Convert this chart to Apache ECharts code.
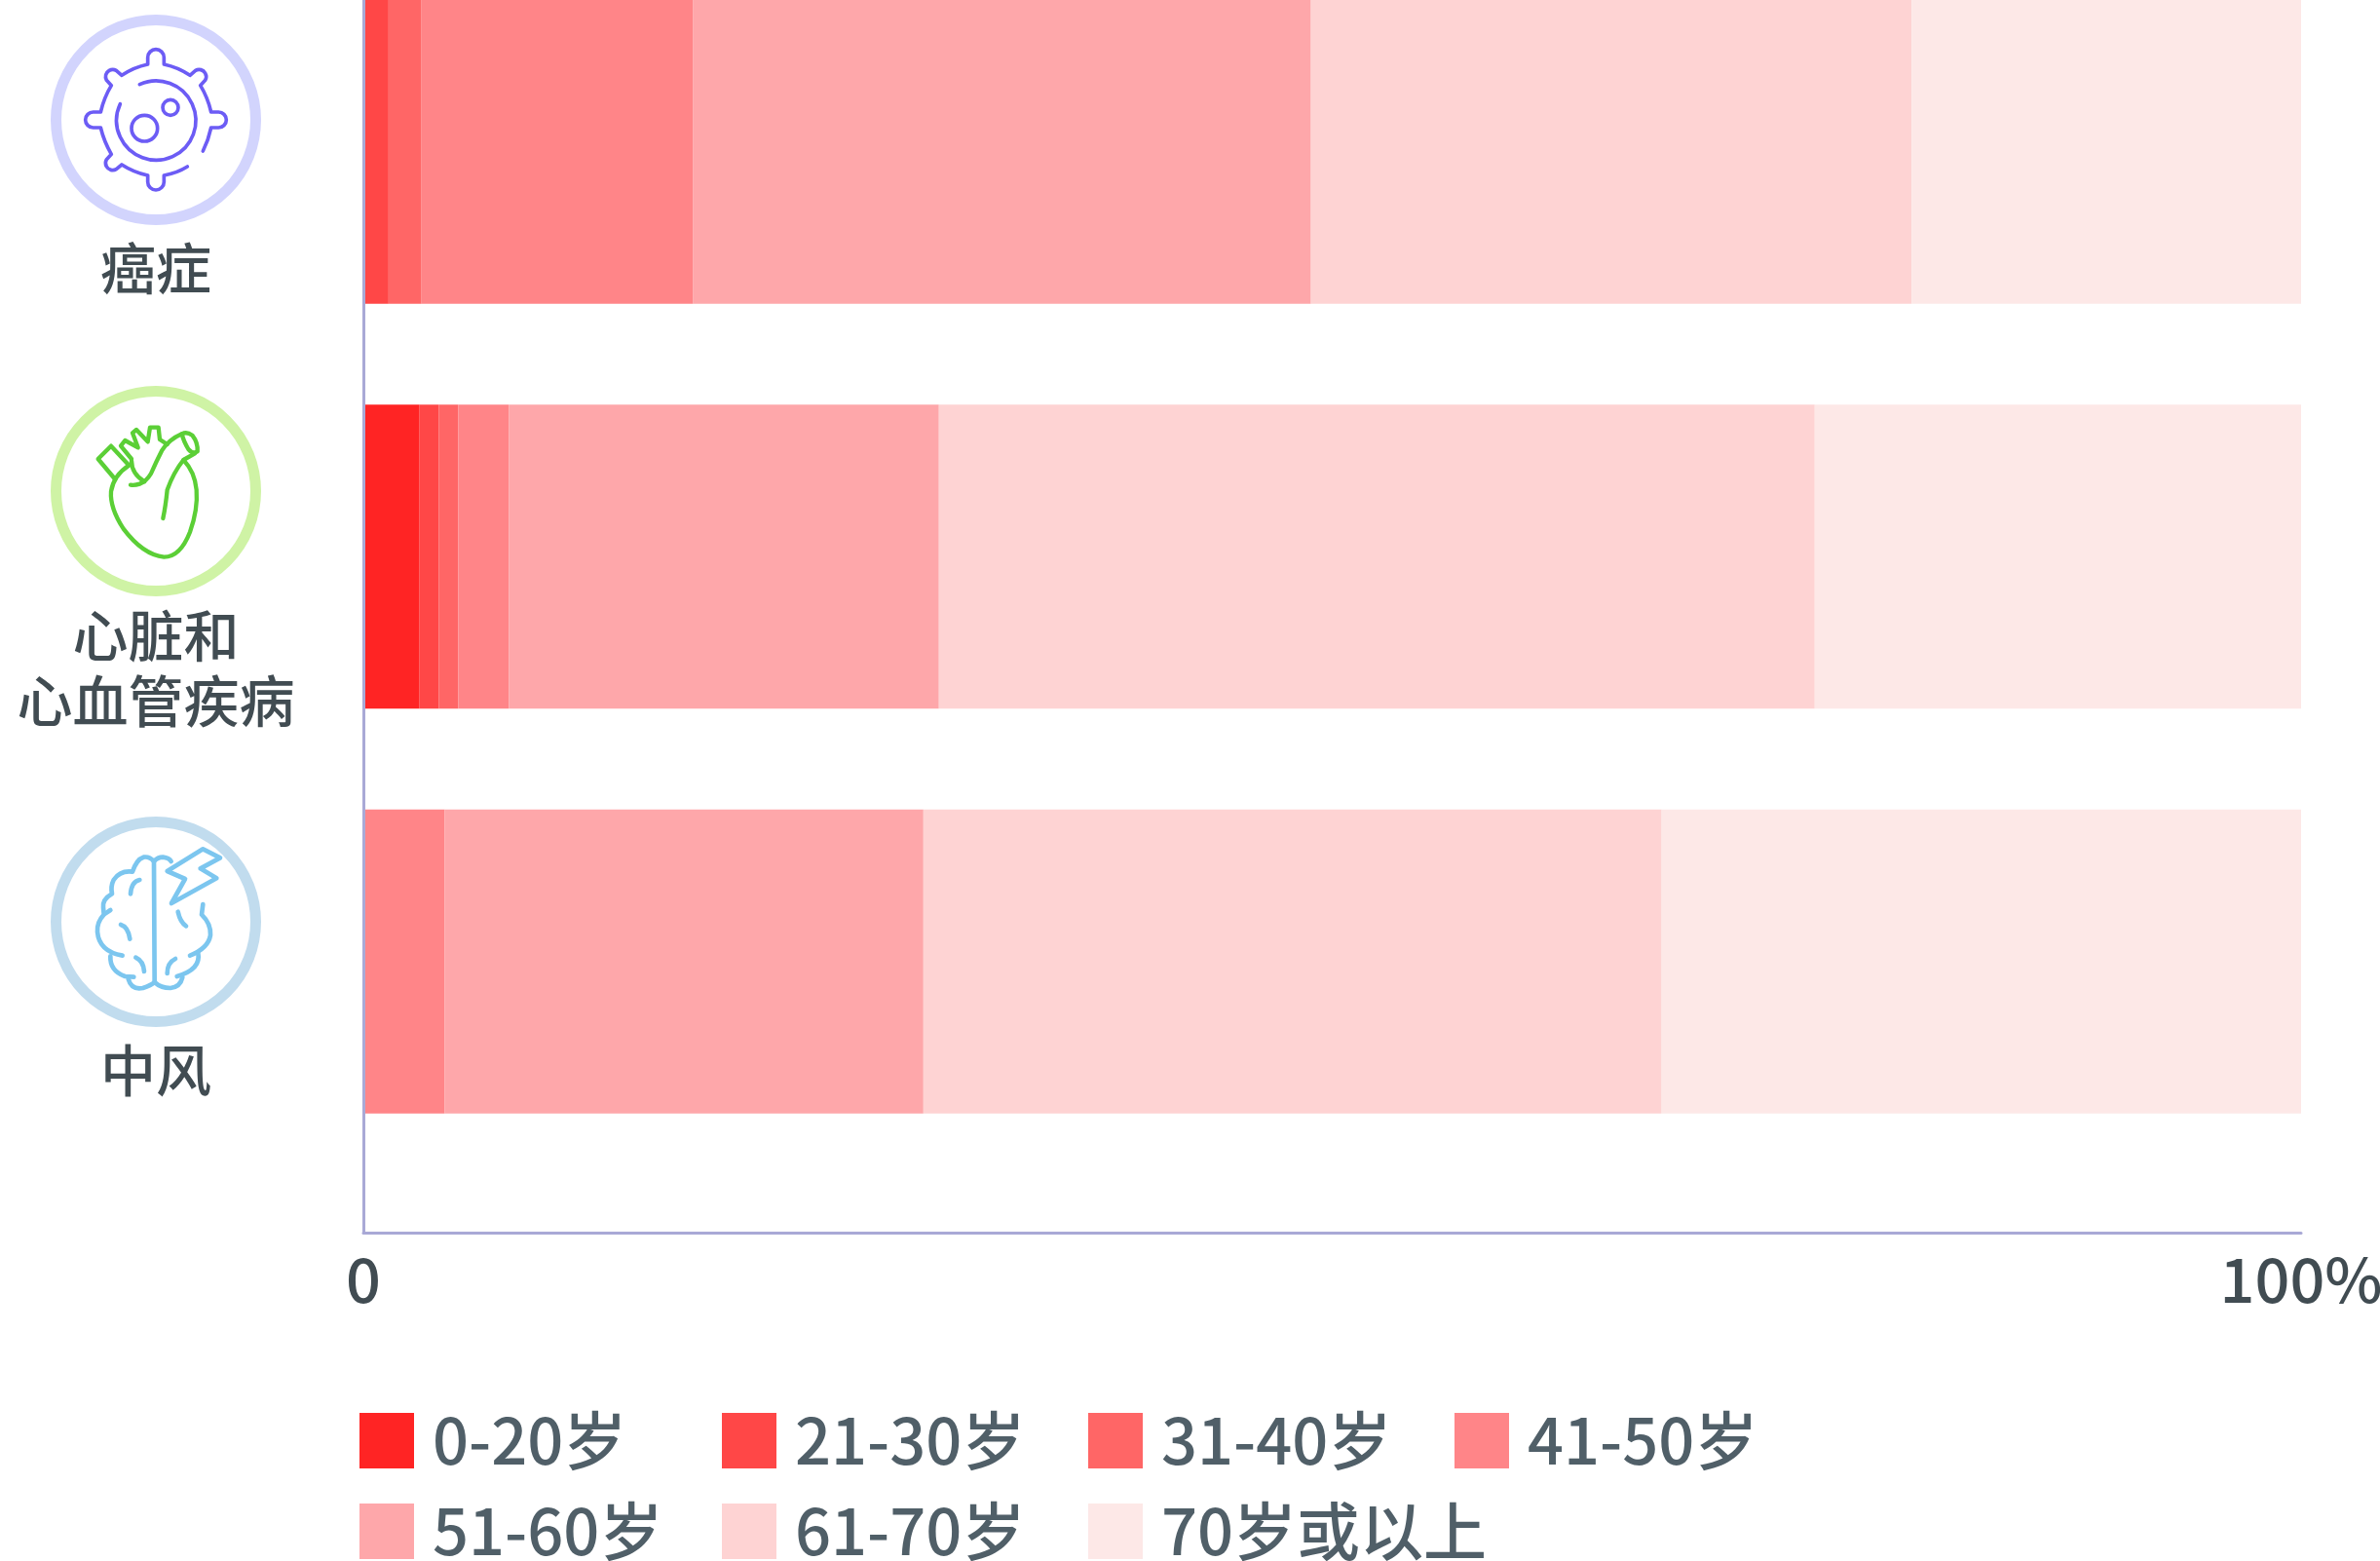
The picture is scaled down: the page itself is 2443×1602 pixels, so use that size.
<!DOCTYPE html>
<html>
<head>
<meta charset="utf-8">
<title>chart</title>
<style>
html, body { margin: 0; padding: 0; background: #fff; }
#main { width: 2443px; height: 1602px; }
</style>
<script src="https://cdn.jsdelivr.net/npm/echarts@6/dist/echarts.min.js"></script>
</head>
<body>
<div id="main"></div>
<script>
var categories = ['癌症', '心脏和\n心血管疾病', '中风'];
var ageGroups = ['0-20岁', '21-30岁', '31-40岁', '41-50岁', '51-60岁', '61-70岁', '70岁或以上'];
var age0to20 = [0, 2.9, 0];
var age21to30 = [1.3, 1.0, 0];
var age31to40 = [1.7, 1.0, 0];
var age41to50 = [14.0, 2.6, 4.2];
var age51to60 = [31.9, 22.2, 24.7];
var age61to70 = [31.0, 45.2, 38.1];
var age70plus = [20.1, 25.1, 33.0];
var seriesValues = [age0to20, age21to30, age31to40, age41to50, age51to60, age61to70, age70plus];
var barColors = ['#ff2424', '#ff4747', '#ff6666', '#ff8588', '#fea7aa', '#fed3d3', '#fde8e7'];
var xTicks = { 0: '0', 100: '100%' };

var FONT = '"Noto Sans CJK SC", "Noto Sans", sans-serif';

// icon outlines, drawn in a 600x600 box that gets scaled down by 3
var icons = [
	{
		color: '#6c5cf5', ring: '#d2d4fd', width: 11, cx: 160, cy: 123, labelY: 275,
		paths: [
			'M397 438 Q365 458 325 465 L325 485 A25 25 0 0 1 275 485 L275 465 Q232 456 195 432 L178 446 A22 22 0 0 1 148 416 L163 400 Q140 360 130 318 L107 318 A24 24 0 0 1 107 270 L130 270 Q140 226 163 188 L148 172 A22 22 0 0 1 178 142 L195 157 Q232 132 275 123 L275 102 A25 25 0 0 1 325 102 L325 123 Q368 132 405 157 L422 142 A22 22 0 0 1 452 172 L437 188 Q460 226 470 270 L493 270 A24 24 0 0 1 493 318 L470 318 Q462 356 445 390',
			'M250 185 A122 122 0 1 1 190 245',
			'M305 320 A40 40 0 1 1 225 320 A40 40 0 1 1 305 320 Z',
			'M369 256 A24 24 0 1 1 321 256 A24 24 0 1 1 369 256 Z'
		]
	},
	{
		color: '#5bcf36', ring: '#cff3a5', width: 13, cx: 160, cy: 504, labelY: 686,
		paths: [
			'M175 258 L122 195 L162 155 L215 212',
			'M218 214 Q170 245 162 295 Q158 345 200 410 Q260 490 325 497 Q375 497 405 420 Q430 350 425 290 Q420 235 385 198',
			'M225 195 L192 155 L205 138 L245 160 L228 115 L240 105 L275 142 L282 98 L308 98 L312 135 L335 150',
			'M380 118 Q340 135 318 170 Q300 205 285 240 Q270 265 250 272 Q235 277 222 275',
			'M225 200 Q225 240 265 265',
			'M380 118 Q395 110 412 122 Q430 145 428 172 Q415 182 400 165 Q385 140 380 118 Z',
			'M420 178 L385 198 Q355 235 335 290 Q330 340 322 378'
		]
	},
	{
		color: '#7cc6ef', ring: '#c1dcee', width: 14, cx: 160, cy: 946, labelY: 1098,
		paths: [
			'M294 108 L296 478',
			'M294 108 Q280 92 262 95 Q240 102 228 140 Q190 135 170 165 Q160 185 165 208 Q135 225 138 250 L140 272 Q118 295 120 325 Q125 385 197 398',
			'M160 258 L145 268',
			'M160 400 Q158 445 205 462 L232 464',
			'M215 470 Q225 505 260 498 Q285 490 296 480 Q315 498 345 498 Q375 495 382 465',
			'M294 108 Q305 95 322 95 Q340 97 347 108',
			'M445 240 L441 272 Q470 300 468 335 Q462 375 405 398',
			'M430 390 Q440 440 365 462',
			'M250 165 Q225 170 222 208',
			'M192 303 Q215 310 220 347',
			'M238 404 Q262 415 264 447',
			'M360 408 Q335 420 335 453',
			'M368 263 Q375 295 393 307',
			'M445 70 L498 97 L437 130 L487 160 L348 237 L390 162 L335 138 Z'
		]
	}
];

var legendCols = [369, 741, 1117, 1493];
var legendRows = [1446, 1539];

var myChart;
var option;

function iconElements() {
	var els = [];
	icons.forEach(function(icon, i) {
		els.push({
			type: 'circle',
			shape: { cx: icon.cx, cy: icon.cy, r: 102.5 },
			style: { fill: 'none', stroke: icon.ring, lineWidth: 11 }
		});
		var children = icon.paths.map(function(d, j) {
			var name = 'icon_' + i + '_' + j;
			echarts.graphic.registerShape(name, echarts.graphic.extendPath(d, {}));
			return {
				type: name,
				style: { fill: 'none', stroke: icon.color, lineWidth: icon.width, lineCap: 'round', lineJoin: 'round' }
			};
		});
		els.push({
			type: 'group',
			x: icon.cx - 100,
			y: icon.cy - 98,
			scaleX: 1 / 3,
			scaleY: 1 / 3,
			children: children
		});
		els.push({
			type: 'text',
			x: icon.cx,
			y: icon.labelY,
			style: {
				text: categories[i],
				font: '500 57px ' + FONT,
				fill: '#414c52',
				align: 'center',
				verticalAlign: 'middle',
				lineHeight: 67
			}
		});
	});
	return els;
}

myChart = echarts.init(document.getElementById('main'));

option = {
	backgroundColor: '#fff',
	animation: false,
	grid: [
		{ left: 373, width: 1989, top: -52, height: 1246.5, outerBoundsMode: 'none' },
		{ left: 373, width: 1989, top: 0, height: 1265, outerBoundsMode: 'none' }
	],
	xAxis: [
		{ gridIndex: 0, type: 'value', min: 0, max: 100, show: false },
		{
			gridIndex: 1,
			type: 'value',
			min: 0,
			max: 100,
			interval: 100,
			z: 5,
			axisLine: { show: true, onZero: false, lineStyle: { color: '#a9a9d6', width: 3 } },
			axisTick: { show: false },
			splitLine: { show: false },
			axisLabel: {
				margin: 17,
				fontFamily: FONT,
				fontSize: 63,
				fontWeight: 500,
				color: '#414c52',
				formatter: function(v) { return xTicks[v]; }
			}
		}
	],
	yAxis: [
		{ gridIndex: 0, type: 'category', inverse: true, data: categories, show: false },
		{
			gridIndex: 1,
			type: 'value',
			min: 0,
			max: 1,
			z: 5,
			axisLine: { show: true, onZero: false, lineStyle: { color: '#a9a9d6', width: 3 } },
			axisTick: { show: false },
			axisLabel: { show: false },
			splitLine: { show: false }
		}
	],
	legend: ageGroups.map(function(name, i) {
		return {
			data: [name],
			left: legendCols[i < 4 ? i : i - 4],
			top: legendRows[i < 4 ? 0 : 1],
			icon: 'rect',
			itemWidth: 56,
			itemHeight: 57,
			selectedMode: false,
			padding: 0,
			textStyle: {
				fontFamily: FONT,
				fontSize: 65,
				fontWeight: 500,
				color: '#505f68',
				padding: [0, 0, 0, 14]
			}
		};
	}),
	graphic: { elements: iconElements() },
	series: ageGroups.map(function(name, i) {
		return {
			name: name,
			type: 'bar',
			stack: 'total',
			xAxisIndex: 0,
			yAxisIndex: 0,
			barWidth: 312,
			itemStyle: { color: barColors[i] },
			data: seriesValues[i]
		};
	})
};
myChart.setOption(option);
</script>
</body>
</html>
